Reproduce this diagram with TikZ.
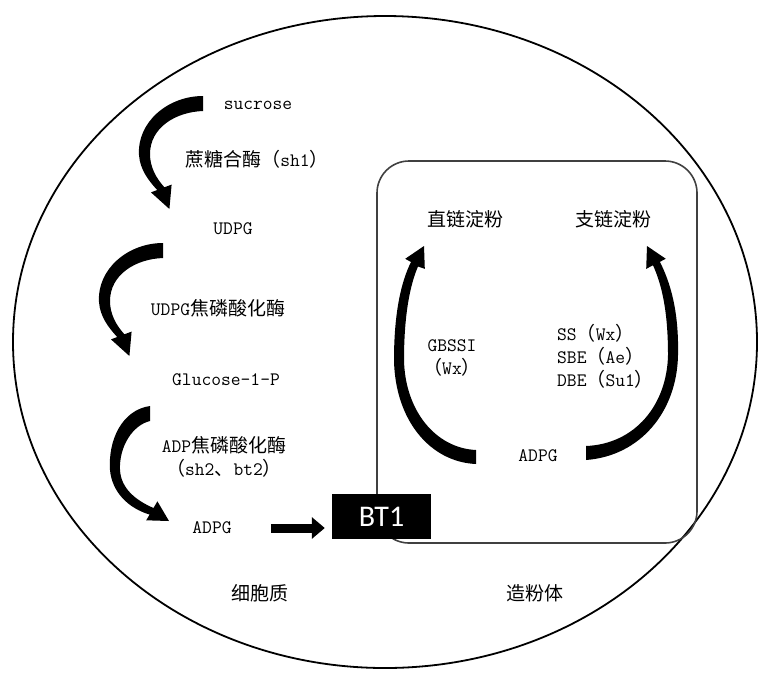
\documentclass[tikz,border=0pt]{standalone}
\usepackage{fontspec}
\newfontfamily\cjk{Noto Sans CJK SC}
\newfontfamily\btfont{Carlito}
\usetikzlibrary{arrows.meta}
\begin{document}
\begin{tikzpicture}[x=1pt,y=-1pt,
  txt/.style={inner sep=0pt, font=\fontsize{19}{23}\selectfont\ttfamily},
  bigarrow/.style={fill=black, draw=none},
  cell/.style={line width=1.8pt, draw=black},
  plastid/.style={line width=1.6pt, draw=black!75, rounded corners=32pt}]
\useasboundingbox (0,0) rectangle (759,673);
% cell and amyloplast outlines
\draw[cell] (385,342) ellipse [x radius=372pt, y radius=326pt];
\draw[plastid] (377,161) rectangle (697,543);

% cytoplasm texts
\node[txt] (suc) at (258,105) {sucrose};
\node[txt] (e1) at (257,159) {{\cjk 蔗糖合酶（}sh1{\cjk ）}};
\node[txt] (udpg) at (233,229) {UDPG};
\node[txt] (e2) at (218,308) {UDPG{\cjk 焦磷酸化酶}};
\node[txt] (g1p) at (226,380) {Glucose-1-P};
\node[txt, align=center] (e3) at (224,457) {ADP{\cjk 焦磷酸化酶}\\{\cjk （}sh2{\cjk 、}bt2{\cjk ）}};
\node[txt] (adpg) at (212,528) {ADPG};
\node[txt] (cyto) at (260,593) {\cjk 细胞质};
\node[txt] (amy) at (535,593) {\cjk 造粉体};

% amyloplast texts
\node[txt] (amylose) at (465,219) {\cjk 直链淀粉};
\node[txt] (amylopectin) at (613,219) {\cjk 支链淀粉};
\node[txt, align=center] (gbssi) at (452,358) {GBSSI\\{\cjk （}Wx{\cjk ）}};
\node[txt, align=left, anchor=west] (enz) at (557,356) {SS{\cjk （}Wx{\cjk ）}\\SBE{\cjk （}Ae{\cjk ）}\\DBE{\cjk （}Su1{\cjk ）}};
\node[txt] (adpg2) at (538,456) {ADPG};

% BT1 transporter
\node[fill=black, minimum width=99pt, minimum height=45pt, inner sep=0pt,
      text=white, font=\btfont\fontsize{30}{30}\selectfont] (bt1) at (381.5,516.5) {BT1};
\draw[line width=9pt, -{Triangle[length=13pt,width=21pt]},
      shorten <=39pt, shorten >=7pt] (adpg.east) -- (adpg.east -| bt1.west);

% curved arrows, cytoplasm
\fill[bigarrow] (203,96) .. controls (168,96) and (137,122) .. (139,155)
  .. controls (140,170) and (149,181) .. (157.2,190) -- (151,192.4) -- (169.4,209)
  -- (171.6,184.6) -- (164.4,187.3) .. controls (156,178) and (150,167) .. (150,154)
  .. controls (150,128) and (175,112) .. (203,111) -- cycle;
\begin{scope}[shift={(-40,147)}]
\fill[bigarrow] (203,96) .. controls (168,96) and (137,122) .. (139,155)
  .. controls (140,170) and (149,181) .. (157.2,190) -- (151,192.4) -- (169.4,209)
  -- (171.6,184.6) -- (164.4,187.3) .. controls (156,178) and (150,167) .. (150,154)
  .. controls (150,128) and (175,112) .. (203,111) -- cycle;
\end{scope}
\fill[bigarrow] (150,406) .. controls (122,410) and (108,440) .. (110,470)
  .. controls (112,492) and (128,508) .. (149.6,514.6) -- (146.2,520.3) -- (169,521)
  -- (157.4,501.3) -- (153.5,508) .. controls (135,500) and (121,488) .. (120,470)
  .. controls (119,446) and (133,425) .. (150,421) -- cycle;

% curved arrows, amyloplast
\fill[bigarrow] (476,464) .. controls (430,462) and (395,420) .. (394,360)
  .. controls (394,310) and (402,280) .. (411,262) -- (405.2,258.8) -- (424,246)
  -- (424.8,268.8) -- (418,266.5) .. controls (410,285) and (404,315) .. (404,360)
  .. controls (405,410) and (435,448) .. (476,450) -- cycle;
\fill[bigarrow] (586,460) .. controls (640,456) and (677,412) .. (678,355)
  .. controls (679,310) and (670,282) .. (659.9,261.8) -- (665.8,258.8) -- (647,246)
  -- (646.2,268.8) -- (653,265.3) .. controls (662,285) and (668,312) .. (668,355)
  .. controls (667,405) and (635,444) .. (586,446) -- cycle;
\end{tikzpicture}
\end{document}
